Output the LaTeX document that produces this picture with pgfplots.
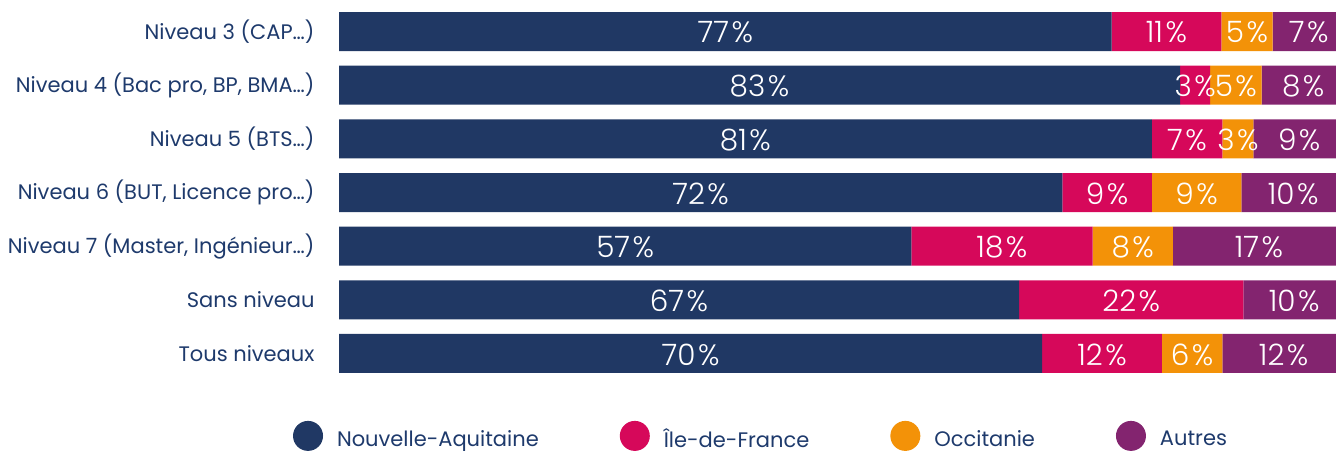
\documentclass[border=0pt]{standalone}
\usepackage{pgfplots}
\usepackage{pgfplotstable}
\pgfplotsset{compat=1.18}
\usepackage{fontspec}
\setmainfont{Poppins}
\IfFontExistsTF{Poppins Light}{\newfontfamily\lightfont{Poppins Light}}{\newfontfamily\lightfont{Poppins}}
\definecolor{navy}{HTML}{203864}
\definecolor{rose}{HTML}{D6085A}
\definecolor{orng}{HTML}{F39208}
\definecolor{prpl}{HTML}{83246F}
\definecolor{txt}{HTML}{1E3A6C}
\pgfplotstableread{
y na   idf  occ  aut  lna lidf locc laut
1 76.8 10.9 5.1  7.2  77  11   5    7
2 83.6 3.0  5.1  8.3  83  3    5    8
3 80.8 7.0  3.1  9.1  81  7    3    9
4 71.9 8.9  8.9  10.3 72  9    9    10
5 56.9 18.0 8.0  17.1 57  18   8    17
6 67.6 22.3 0    10.1 67  22   {}   10
7 69.9 11.9 6.0  12.2 70  12   6    12
}\datatable
\newcommand\pct[1]{\ifx#1\empty\else#1\kern2.5pt\%\fi}
\begin{document}
\begin{tikzpicture}
\begin{axis}[
  at={(339pt,-380.3pt)}, anchor=south west,
  xbar stacked, bar width=39pt,
  scale only axis, width=1006pt, height=375.6pt,
  xmin=0, xmax=100, ymin=0.5, ymax=7.5, y dir=reverse,
  axis line style={draw=none},
  xtick=\empty,
  ytick={1,2,3,4,5,6,7},
  yticklabels={Niveau 3 (CAP…), Niveau 4 (Bac pro{,} BP{,} BMA…), Niveau 5 (BTS…), Niveau 6 (BUT{,} Licence pro…), Niveau 7 (Master{,} Ingénieur…), Sans niveau, Tous niveaux},
  major tick length=0pt,
  yticklabel style={font=\fontsize{21}{23}\selectfont, text=txt, xshift=-21pt},
  point meta=explicit symbolic,
  nodes near coords={\pct{\pgfplotspointmeta}},
  every node near coord/.append style={anchor=center, text=white, yshift=-1pt, font=\lightfont\fontsize{29.5}{31}\selectfont},
  legend columns=4,
  legend style={draw=none, fill=none, at={(axis description cs:-0.0457,-0.148)}, anchor=west, inner sep=0pt, outer sep=0pt, font=\fontsize{21}{23}\selectfont, text=txt, nodes={inner sep=0pt}, /tikz/every odd column/.append style={column sep=14pt}, /tikz/every even column/.append style={column sep=81pt}},
  legend image code/.code={\fill[#1] (15pt,3pt) circle (15pt);},
]
\addplot[fill=navy, draw=none] table[x=na, y=y, meta=lna] {\datatable};
\addplot[fill=rose, draw=none] table[x=idf, y=y, meta=lidf] {\datatable};
\addplot[fill=orng, draw=none] table[x=occ, y=y, meta=locc] {\datatable};
\addplot[fill=prpl, draw=none] table[x=aut, y=y, meta=laut] {\datatable};
\legend{Nouvelle-Aquitaine, Île-de-France, Occitanie, Autres}
\end{axis}
\pgfresetboundingbox
\useasboundingbox (0,0) rectangle (1336pt,-450pt);
\end{tikzpicture}
\end{document}
